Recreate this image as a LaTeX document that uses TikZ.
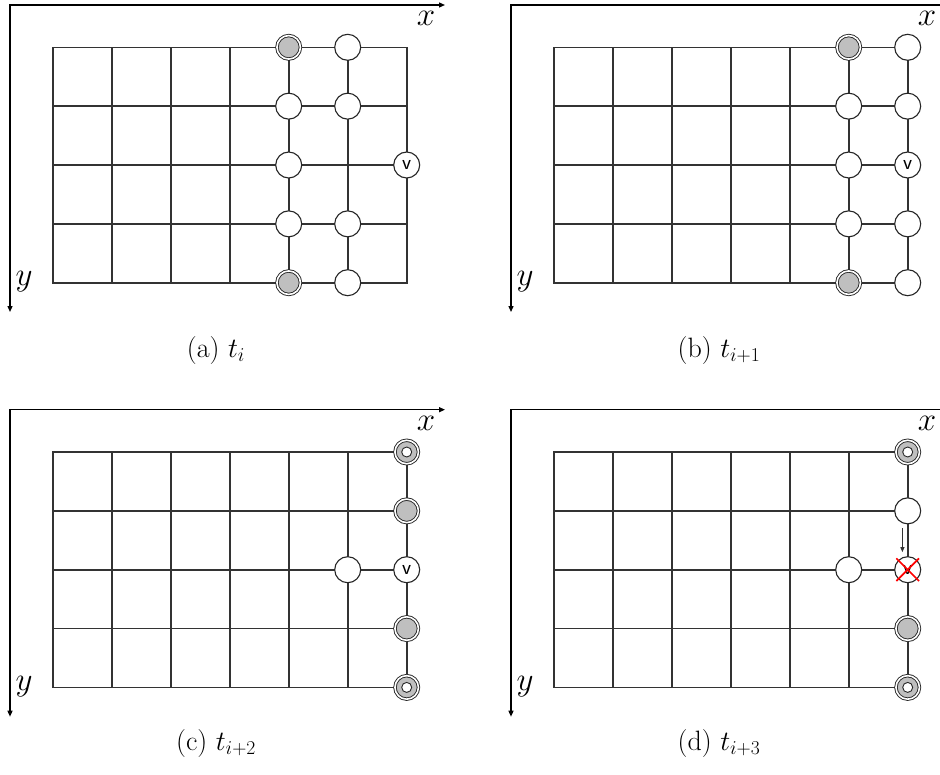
\RequirePackage{fix-cm}
\documentclass[tikz,border=0pt]{standalone}
\usetikzlibrary{arrows.meta,calc}
\tikzset{
  gridline/.style={draw=black!80, line width=1.6pt, line cap=rect},
  axis/.style={draw=black, line width=1.3pt, {Triangle[length=6pt,width=5pt]}-{Triangle[length=6pt,width=5pt]}},
  wc/.style={circle, draw=black!85, line width=1.1pt, fill=white, minimum size=26pt, inner sep=0pt},
  vc/.style={wc, font=\sffamily\fontsize{21}{21}\selectfont},
  dgc/.style={circle, draw=black!85, line width=0.9pt, double=white, double distance=1.6pt, fill=gray!50, minimum size=23.5pt, inner sep=0pt},
  tgc/.style={dgc, path picture={\draw[black!85, line width=0.9pt, fill=white] (path picture bounding box.center) circle (5pt);}},
  axlabel/.style={font=\fontsize{33}{33}\selectfont, inner sep=0pt},
  captext/.style={font=\fontsize{28}{32}\selectfont, anchor=base},
  redx/.style={draw=red, line width=1.7pt, shorten >=-2.5pt, shorten <=-2.5pt},
  move/.style={draw=black!80, line width=0.9pt, -{Triangle[length=5pt,width=4pt]}},
}
\begin{document}
\begin{tikzpicture}[x=1pt,y=-1pt]
\path[use as bounding box] (0,0) rectangle (940,774);
\clip (0,0) rectangle (940,774);
\fill[white] (0,0) rectangle (940,774);
% four panels: common axes and grid
\foreach \dx/\dy/\p in {0/0/a, 501/0/b, 0/404.7/c, 501/404.7/d}{
  \begin{scope}[shift={(\dx,\dy)}]
    \foreach \j in {0,...,4}
      \draw[gridline] (52.7,47.3+58.85*\j) -- (406.7,47.3+58.85*\j);
    \foreach \i in {0,...,6}
      \draw[gridline] (52.7+59*\i,47.3) -- (52.7+59*\i,282.7);
    \draw[axis] (445,5) -- (10,5) -- (10,312);
    \node[axlabel] (\p-x) at (426,18.5) {$x$};
    \node[axlabel] (\p-y) at (24,282) {$y$};
  \end{scope}
}
% panel (a)
\node[dgc] (a40) at (288.7,47.3) {};
\node[wc]  (a41) at (288.7,106.15) {};
\node[wc]  (a42) at (288.7,165) {};
\node[wc]  (a43) at (288.7,223.85) {};
\node[dgc] (a44) at (288.7,282.7) {};
\node[wc]  (a50) at (347.7,47.3) {};
\node[wc]  (a51) at (347.7,106.15) {};
\node[wc]  (a53) at (347.7,223.85) {};
\node[wc]  (a54) at (347.7,282.7) {};
\node[vc]  (a62) at (406.7,165) {v};
% panel (b)
\begin{scope}[shift={(501,0)}]
\node[dgc] (b50) at (347.7,47.3) {};
\node[wc]  (b51) at (347.7,106.15) {};
\node[wc]  (b52) at (347.7,165) {};
\node[wc]  (b53) at (347.7,223.85) {};
\node[dgc] (b54) at (347.7,282.7) {};
\node[wc]  (b60) at (406.7,47.3) {};
\node[wc]  (b61) at (406.7,106.15) {};
\node[vc]  (b62) at (406.7,165) {v};
\node[wc]  (b63) at (406.7,223.85) {};
\node[wc]  (b64) at (406.7,282.7) {};
\end{scope}
% panel (c)
\begin{scope}[shift={(0,404.7)}]
\node[wc]  (c52) at (347.7,165) {};
\node[tgc] (c60) at (406.7,47.3) {};
\node[dgc] (c61) at (406.7,106.15) {};
\node[vc]  (c62) at (406.7,165) {v};
\node[dgc] (c63) at (406.7,223.85) {};
\node[tgc] (c64) at (406.7,282.7) {};
\end{scope}
% panel (d)
\begin{scope}[shift={(501,404.7)}]
\node[wc]  (d52) at (347.7,165) {};
\node[tgc] (d60) at (406.7,47.3) {};
\node[wc]  (d61) at (406.7,106.15) {};
\node[vc]  (d62) at (406.7,165) {v};
\node[dgc] (d63) at (406.7,223.85) {};
\node[tgc] (d64) at (406.7,282.7) {};
\draw[redx] (d62.north west) -- (d62.south east);
\draw[redx] (d62.north east) -- (d62.south west);
\coordinate (dmv-s) at ($(d61.south)+(-5.3,4)$);
\coordinate (dmv-e) at ($(d62.north)+(-5.3,-4)$);
\draw[move] (dmv-s) -- (dmv-e);
\end{scope}
% captions
\node[captext] (cap-a) at (216,357) {(a) $t_i$};
\node[captext] (cap-b) at (719,357) {(b) $t_{i+1}$};
\node[captext] (cap-c) at (216,750) {(c) $t_{i+2}$};
\node[captext] (cap-d) at (719,750) {(d) $t_{i+3}$};
\end{tikzpicture}
\end{document}
